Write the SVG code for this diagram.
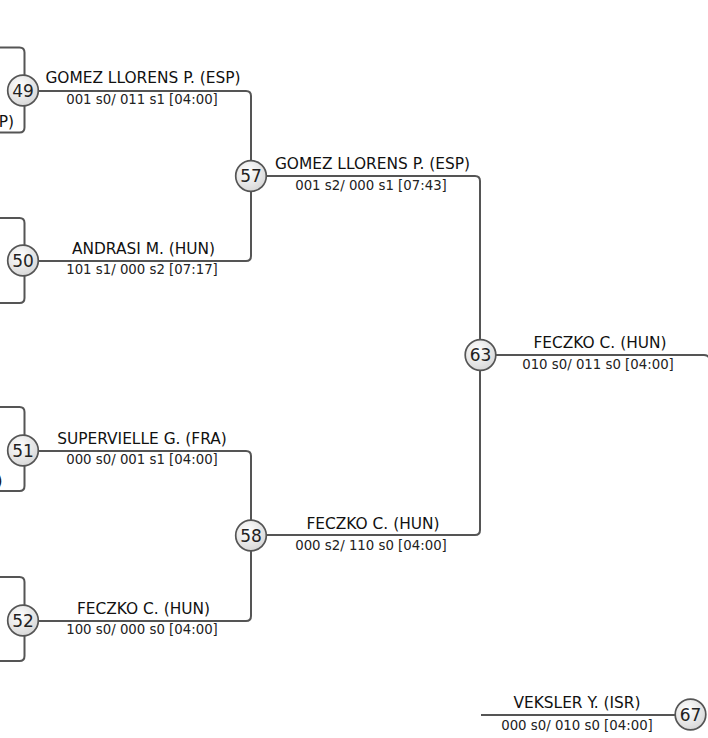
<svg xmlns="http://www.w3.org/2000/svg" width="708" height="738" viewBox="0 0 708 738">
<defs>
<radialGradient id="cg" cx="0.4" cy="0.35" r="0.7">
<stop offset="0" stop-color="#ffffff"/>
<stop offset="1" stop-color="#d6d6d6"/>
</radialGradient>
<style>
.ln{fill:none;stroke:#555;stroke-width:2}
.c{fill:url(#cg);stroke:#555;stroke-width:1.7}
.num{font-family:"DejaVu Sans",sans-serif;font-size:17px;fill:#222;text-anchor:middle}
.nm{font-family:"DejaVu Sans",sans-serif;font-size:15.4px;fill:#111;text-anchor:middle}
.sc{font-family:"DejaVu Sans",sans-serif;font-size:13.3px;fill:#222;text-anchor:middle}
</style>
</defs>
<rect width="708" height="738" fill="#fff"/>
<g id="connectors">
<path class="ln" d="M0,47.5 H19.5 Q24.5,47.5 24.5,52.5 V127.5 Q24.5,132.5 19.5,132.5 H0"/>
<path class="ln" d="M0,218 H19.5 Q24.5,218 24.5,223 V298 Q24.5,303 19.5,303 H0"/>
<path class="ln" d="M0,407 H19.5 Q24.5,407 24.5,412 V486 Q24.5,491 19.5,491 H0"/>
<path class="ln" d="M0,577 H19.5 Q24.5,577 24.5,582 V656 Q24.5,661 19.5,661 H0"/>
<path class="ln" d="M24.5,91 H246 Q251,91 251,96 V256 Q251,261 246,261 H24.5"/>
<path class="ln" d="M24.5,451 H246 Q251,451 251,456 V616 Q251,621 246,621 H24.5"/>
<path class="ln" d="M251,176 H475 Q480,176 480,181 V530 Q480,535 475,535 H251"/>
<path class="ln" d="M480,355 H704 Q709.8,355 709.8,361 V738"/>
<path class="ln" d="M481,715 H675"/>
</g>
<g id="leaf49b"><text class="nm" x="14" y="127" style="text-anchor:end">P)</text></g>
<g id="leaf51b"><text class="nm" x="2.5" y="486" style="text-anchor:end">)</text></g>
<g id="m49">
<circle class="c" cx="23" cy="90.5" r="15.3"/>
<text class="num" x="23" y="96.5">49</text>
<text class="nm" x="143" y="83">GOMEZ LLORENS P. (ESP)</text>
<text class="sc" x="142" y="104">001 s0/ 011 s1 [04:00]</text>
</g>
<g id="m50">
<circle class="c" cx="23" cy="260.5" r="15.3"/>
<text class="num" x="23" y="266.5">50</text>
<text class="nm" x="143.5" y="254">ANDRASI M. (HUN)</text>
<text class="sc" x="142" y="274">101 s1/ 000 s2 [07:17]</text>
</g>
<g id="m51">
<circle class="c" cx="23" cy="450.5" r="15.3"/>
<text class="num" x="23" y="456.5">51</text>
<text class="nm" x="142" y="444">SUPERVIELLE G. (FRA)</text>
<text class="sc" x="142" y="464">000 s0/ 001 s1 [04:00]</text>
</g>
<g id="m52">
<circle class="c" cx="23" cy="620.5" r="15.3"/>
<text class="num" x="23" y="626.5">52</text>
<text class="nm" x="143.5" y="614">FECZKO C. (HUN)</text>
<text class="sc" x="142" y="634">100 s0/ 000 s0 [04:00]</text>
</g>
<g id="m57">
<circle class="c" cx="251" cy="176" r="15.3"/>
<text class="num" x="251" y="182">57</text>
<text class="nm" x="372.5" y="169">GOMEZ LLORENS P. (ESP)</text>
<text class="sc" x="371" y="190">001 s2/ 000 s1 [07:43]</text>
</g>
<g id="m58">
<circle class="c" cx="251" cy="535.5" r="15.3"/>
<text class="num" x="251" y="541.5">58</text>
<text class="nm" x="373" y="529">FECZKO C. (HUN)</text>
<text class="sc" x="371" y="550">000 s2/ 110 s0 [04:00]</text>
</g>
<g id="m63">
<circle class="c" cx="480.5" cy="355" r="15.3"/>
<text class="num" x="480.5" y="361">63</text>
<text class="nm" x="600" y="348">FECZKO C. (HUN)</text>
<text class="sc" x="598" y="369">010 s0/ 011 s0 [04:00]</text>
</g>
<g id="m67">
<circle class="c" cx="690.5" cy="714.5" r="15.3"/>
<text class="num" x="690.5" y="720.5">67</text>
<text class="nm" x="577" y="708">VEKSLER Y. (ISR)</text>
<text class="sc" x="577" y="730">000 s0/ 010 s0 [04:00]</text>
</g>
</svg>
